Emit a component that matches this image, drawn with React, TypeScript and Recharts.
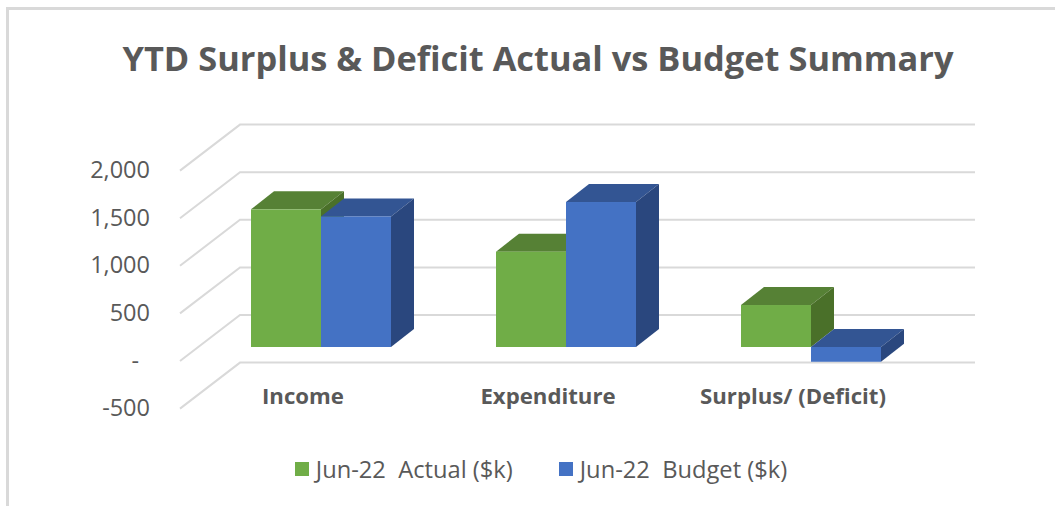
import { BarChart, Bar, XAxis, YAxis, CartesianGrid, Legend } from "recharts";

const categories = ["Income", "Expenditure", "Surplus/ (Deficit)"];
const actualValues = [1446, 1001, 441];
const budgetValues = [1371, 1523, -155];
const yTicks = [-500, 0, 500, 1000, 1500, 2000];

const data = categories.map((name, i) => ({
  name,
  actual: actualValues[i],
  budget: budgetValues[i],
}));

const TEXT = "#595959";
const FONT = "'Open Sans', sans-serif";
const GRID = "#d9d9d9";

// how far the bars and walls recede, in px
const BAR_DX = 23;
const BAR_DY = 18;
const WALL_BACK_DX = 41.5;
const WALL_BACK_DY = -32;
const WALL_FRONT_DX = -18.5;
const WALL_FRONT_DY = 14;

function gridLine(props: any) {
  const { x1, x2, y1 } = props;
  const backY = y1 + WALL_BACK_DY;
  return (
    <polyline
      key={props.key ?? y1}
      points={`${x1 + WALL_FRONT_DX},${y1 + WALL_FRONT_DY} ${x1 + WALL_BACK_DX},${backY} ${x2 + WALL_BACK_DX},${backY}`}
      fill="none"
      stroke={GRID}
      strokeWidth={2}
    />
  );
}

function box(front: string, top: string, side: string) {
  return (props: any) => {
    const { x, width } = props;
    const y = Math.min(props.y, props.y + props.height);
    const h = Math.abs(props.height);
    const r = x + width;
    return (
      <g>
        <polygon
          points={`${x},${y} ${x + BAR_DX},${y - BAR_DY} ${r + BAR_DX},${y - BAR_DY} ${r},${y}`}
          fill={top}
        />
        <polygon
          points={`${r},${y} ${r + BAR_DX},${y - BAR_DY} ${r + BAR_DX},${y + h - BAR_DY} ${r},${y + h}`}
          fill={side}
        />
        <rect x={x} y={y} width={width} height={h} fill={front} />
      </g>
    );
  };
}

function YTick(props: any) {
  const v = props.payload.value;
  const label = v === 0 ? "-" : v.toLocaleString("en-US");
  return (
    <text
      x={v === 0 ? 139 : 150}
      y={props.y + 12.5}
      textAnchor="end"
      dominantBaseline="central"
      fontFamily={FONT}
      fontSize={23.5}
      fill={TEXT}
    >
      {label}
    </text>
  );
}

function XTick(props: any) {
  return (
    <text
      x={props.x - 18}
      y={395}
      textAnchor="middle"
      dominantBaseline="central"
      fontFamily={FONT}
      fontSize={22.2}
      fontWeight={700}
      fill={TEXT}
    >
      {props.payload.value}
    </text>
  );
}

function LegendRow(props: any) {
  return (
    <div style={{ display: "flex", justifyContent: "center", gap: 46, fontFamily: FONT, fontSize: 23.7, color: TEXT }}>
      {props.payload.map((p: any) => (
        <div key={p.value} style={{ display: "flex", alignItems: "center", gap: 7, whiteSpace: "pre" }}>
          <span style={{ width: 14, height: 14, background: p.color, display: "inline-block" }} />
          {p.value}
        </div>
      ))}
    </div>
  );
}

export default function App() {
  return (
    <div style={{ position: "absolute", left: 0, top: 0, width: 1055, height: 506, background: "#fff", overflow: "hidden" }}>
      <div style={{ position: "absolute", left: 6, top: 7, width: 1100, height: 600, border: `3px solid ${GRID}` }} />
      <div
        style={{
          position: "absolute",
          left: 0,
          width: 1076,
          top: 36,
          textAlign: "center",
          fontFamily: FONT,
          fontSize: 34.4,
          fontWeight: 700,
          color: TEXT,
          whiteSpace: "pre",
          lineHeight: "44px",
        }}
      >
        YTD Surplus &amp; Deficit Actual vs Budget Summary
      </div>
      <BarChart
        width={1055}
        height={506}
        data={data}
        barCategoryGap={52.5}
        barGap={0}
        margin={{ top: 156.6, right: 121.5, bottom: 81.4, left: 138.5 }}
        style={{ position: "absolute", left: 0, top: 0 }}
      >
        <CartesianGrid vertical={false} horizontal={gridLine} />
        <XAxis dataKey="name" height={30} axisLine={false} tickLine={false} tick={XTick} interval={0} />
        <YAxis
          domain={[-500, 2000]}
          ticks={yTicks}
          width={60}
          axisLine={false}
          tickLine={false}
          tick={YTick}
          interval={0}
        />
        <Legend
          layout="horizontal"
          verticalAlign="middle"
          align="center"
          content={LegendRow}
          wrapperStyle={{ top: 453, left: 0, width: 1082 }}
        />
        <Bar dataKey="actual" name="Jun-22  Actual ($k)" fill="#70ad47" isAnimationActive={false} shape={box("#70ad47", "#568135", "#4a7029")} />
        <Bar dataKey="budget" name="Jun-22  Budget ($k)" fill="#4472c4" isAnimationActive={false} shape={box("#4472c4", "#335593", "#2a477e")} />
      </BarChart>
    </div>
  );
}
